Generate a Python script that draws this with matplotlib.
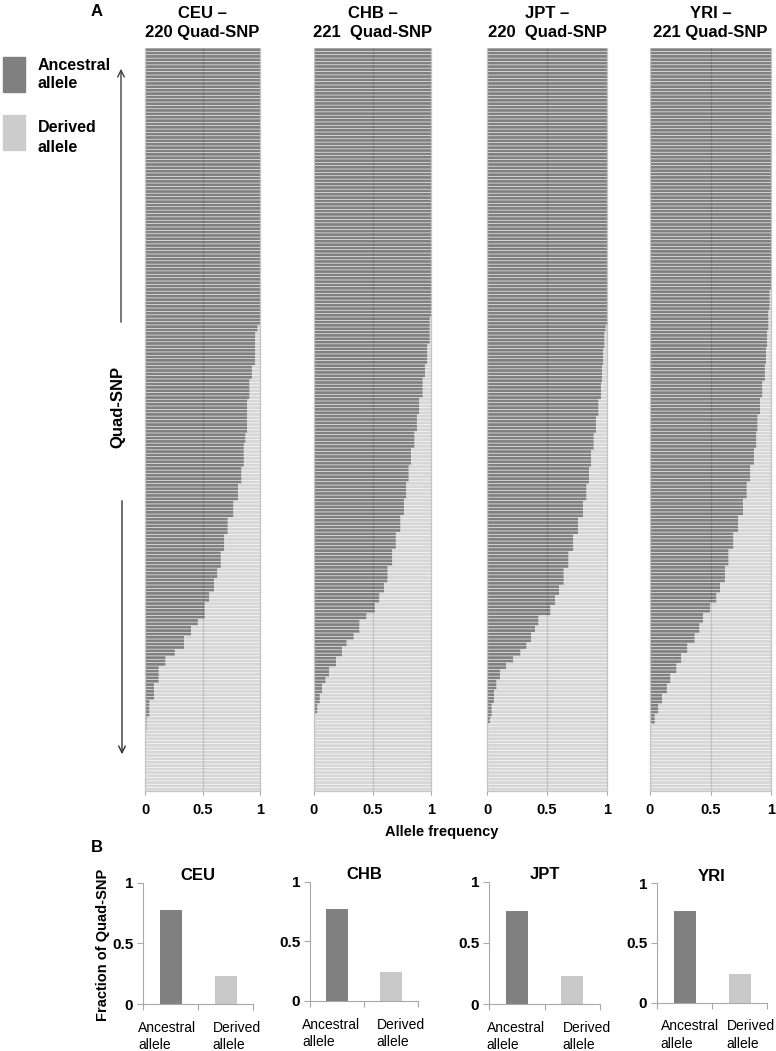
import numpy as np
import matplotlib
matplotlib.use("Agg")
import matplotlib.pyplot as plt
from matplotlib.patches import Rectangle

plt.rcParams['font.family'] = ['Liberation Sans', 'DejaVu Sans']

# ---- panel A: ancestral allele frequency per Quad-SNP (sorted, top row first)
pops = ['CEU', 'CHB', 'JPT', 'YRI']
title_counts = ['220 Quad-SNP', '221  Quad-SNP', '220  Quad-SNP', '221 Quad-SNP']

ceu_levels = [1.00, 0.98, 0.96, 0.93, 0.91, 0.89, 0.875, 0.86, 0.84, 0.81, 0.77, 0.72, 0.69, 0.66,
              0.63, 0.60, 0.56, 0.52, 0.46, 0.40, 0.34, 0.26, 0.18, 0.12, 0.08, 0.04, 0.015, 0.0]
ceu_counts = [82, 2, 10, 4, 6, 10, 3, 7, 5, 5, 5, 5, 5, 5,
              3, 4, 3, 5, 2, 3, 4, 2, 3, 5, 5, 5, 4, 18]

chb_levels = [1.00, 0.99, 0.97, 0.95, 0.93, 0.90, 0.88, 0.86, 0.83, 0.81, 0.79, 0.77, 0.74, 0.70, 0.67, 0.63,
              0.60, 0.56, 0.52, 0.45, 0.39, 0.34, 0.28, 0.24, 0.19, 0.13, 0.10, 0.07, 0.05, 0.03, 0.01, 0.0]
chb_counts = [80, 8, 6, 4, 6, 5, 5, 5, 5, 5, 5, 5, 5, 5, 5, 5,
              3, 3, 3, 2, 4, 2, 2, 3, 3, 3, 2, 3, 3, 3, 3, 20]

jpt_levels = [1.00, 0.99, 0.98, 0.97, 0.96, 0.95, 0.93, 0.91, 0.89, 0.87, 0.85, 0.83, 0.80, 0.76, 0.72, 0.68, 0.64,
              0.60, 0.57, 0.53, 0.43, 0.40, 0.37, 0.33, 0.28, 0.22, 0.16, 0.11, 0.08, 0.06, 0.04, 0.025, 0.01, 0.0]
jpt_counts = [82, 2, 5, 5, 5, 5, 5, 5, 5, 5, 5, 5, 5, 5, 5, 5, 5,
              3, 3, 3, 3, 2, 3, 2, 2, 2, 2, 3, 3, 4, 4, 2, 2, 18]

yri_levels = [1.00, 0.99, 0.98, 0.97, 0.96, 0.95, 0.93, 0.91, 0.89, 0.88, 0.86, 0.83, 0.80, 0.77, 0.73, 0.69, 0.65,
              0.62, 0.58, 0.55, 0.50, 0.44, 0.41, 0.37, 0.31, 0.26, 0.22, 0.17, 0.14, 0.10, 0.07, 0.04, 0.01, 0.0]
yri_counts = [72, 6, 6, 5, 5, 5, 5, 5, 5, 5, 5, 5, 5, 5, 5, 5, 5,
              5, 3, 3, 3, 3, 3, 3, 3, 3, 3, 3, 3, 3, 3, 3, 1, 19]

freq_ticks = [0, 0.5, 1]
freq_tick_labels = ['0', '0.5', '1']

# ---- panel B: fraction of Quad-SNP with ancestral / derived allele
b_categories = ['Ancestral\nallele', 'Derived\nallele']
b_ancestral = [0.775, 0.77, 0.76, 0.77]
b_derived = [0.23, 0.245, 0.23, 0.238]
b_ticks = [0, 0.5, 1]
b_tick_labels = ['0', '0.5', '1']

W, H = 776, 1051
DARK = '#808080'
LIGHT = '#d6d6d6'
AXCOL = '#a8a8a8'


def px_rect(x0, x1, y0, y1):
    # pixel box (top-left origin) -> figure fraction rect
    return [x0 / W, 1 - y1 / H, (x1 - x0) / W, (y1 - y0) / H]


def panel_a(fig, rect, freqs):
    ax = fig.add_axes(rect)
    n = len(freqs)
    rows = np.arange(n)
    # no pixel snapping, so the thin gaps blend into soft stripes
    b1 = ax.barh(rows, freqs, height=0.82, color=DARK, linewidth=0)
    b2 = ax.barh(rows, 1 - freqs, left=freqs, height=0.82, color=LIGHT, linewidth=0)
    for p in list(b1) + list(b2):
        p.set_snap(False)
    ax.axvline(0.5, color='black', alpha=0.12, lw=0.9, zorder=3)
    ax.set_xlim(0, 1)
    ax.set_ylim(n - 0.5, -0.5)
    ax.set_yticks([])
    ax.set_xticks(freq_ticks)
    ax.set_xticklabels(freq_tick_labels, fontsize=10.5, fontweight='bold')
    ax.tick_params(axis='x', length=3, color=AXCOL, pad=6)
    ax.spines['top'].set_visible(False)
    for s in ['left', 'right', 'bottom']:
        ax.spines[s].set_color('#c4c4c4')
        ax.spines[s].set_linewidth(0.9)
    return ax


def panel_b(fig, rect, title, anc, der, label_x):
    ax = fig.add_axes(rect)
    ax.bar([0.5, 1.5], [anc, der], width=0.4, color=[DARK, '#c9c9c9'], linewidth=0)
    ax.set_xlim(0, 2)
    ax.set_ylim(0, 1)
    ax.set_yticks(b_ticks)
    ax.set_yticklabels(b_tick_labels, fontsize=11, fontweight='bold')
    ax.set_xticks([0, 1, 2])
    ax.set_xticklabels([])
    ax.tick_params(axis='x', length=4, color=AXCOL)
    ax.tick_params(axis='y', length=4, color=AXCOL, pad=3)
    ax.spines['top'].set_visible(False)
    ax.spines['right'].set_visible(False)
    ax.spines['left'].set_color(AXCOL)
    ax.spines['bottom'].set_color(AXCOL)
    # category labels, left aligned two-line blocks under the axis
    for lx, lab in zip(label_x, b_categories):
        ax.text(lx, -0.14, lab, transform=ax.transData, ha='left', va='top',
                fontsize=10, linespacing=1.3)
    ax.text(0.5, 1.06, title, transform=ax.transAxes, ha='center', va='center',
            fontsize=12, fontweight='bold')
    return ax


def main():
    fig = plt.figure(figsize=(W / 100, H / 100), dpi=100)

    # panel A
    a_x = [(145, 260), (314, 431), (487, 607), (650, 771)]
    a_data = [(ceu_levels, ceu_counts), (chb_levels, chb_counts),
              (jpt_levels, jpt_counts), (yri_levels, yri_counts)]
    for (x0, x1), (lv, ct), pop, tc in zip(a_x, a_data, pops, title_counts):
        freqs = np.repeat(np.array(lv), ct)
        panel_a(fig, px_rect(x0, x1, 48, 791), freqs)
        cx = (x0 + x1) / 2
        fig.text(cx / W, 1 - 14 / H, pop + ' \u2013', ha='center', va='center',
                 fontsize=12, fontweight='bold')
        fig.text(cx / W, 1 - 32 / H, tc, ha='center', va='center',
                 fontsize=12, fontweight='bold')

    # panel B
    b_boxes = [(143, 253, 882.7, 1004), (310, 418, 881.7, 1001),
               (489, 600, 881.7, 1004), (657, 767, 883.3, 1002.7)]
    b_label_x = [(-0.09, 1.27), (-0.15, 1.23), (-0.04, 1.33), (0.07, 1.27)]
    for (x0, x1, y0, y1), pop, anc, der, lx in zip(b_boxes, pops, b_ancestral, b_derived, b_label_x):
        panel_b(fig, px_rect(x0, x1, y0, y1), pop, anc, der, lx)

    # overlay in pixel coords for legend, arrows and labels
    ov = fig.add_axes([0, 0, 1, 1])
    ov.set_xlim(0, W)
    ov.set_ylim(H, 0)
    ov.axis('off')

    ov.text(97, 12, 'A', ha='center', va='center', fontsize=12, fontweight='bold')
    ov.text(97, 848, 'B', ha='center', va='center', fontsize=12, fontweight='bold')

    # legend
    ov.add_patch(Rectangle((3, 57), 22, 35, color=DARK))
    ov.add_patch(Rectangle((3, 115), 22, 35, color='#cccccc'))
    ov.text(38, 66, 'Ancestral', va='center', fontsize=11.5, fontweight='bold')
    ov.text(38, 84, 'allele', va='center', fontsize=11.5, fontweight='bold')
    ov.text(38, 128, 'Derived', va='center', fontsize=11.5, fontweight='bold')
    ov.text(38, 147, 'allele', va='center', fontsize=11.5, fontweight='bold')

    # Quad-SNP arrow
    ov.annotate('', xy=(121, 66), xytext=(121, 325),
                arrowprops=dict(arrowstyle='->', lw=1.0, color='#404040', mutation_scale=12))
    ov.annotate('', xy=(122, 757), xytext=(122, 498),
                arrowprops=dict(arrowstyle='->', lw=1.0, color='#303030', mutation_scale=12))
    ov.text(118, 407, 'Quad-SNP', rotation=90, ha='center', va='center',
            fontsize=12, fontweight='bold')

    ov.text(442, 832, 'Allele frequency', ha='center', va='center',
            fontsize=10.5, fontweight='bold')
    ov.text(103, 945, 'Fraction of Quad-SNP', rotation=90, ha='center', va='center',
            fontsize=10.5, fontweight='bold')

    fig.savefig('out.png', dpi=100)


main()
